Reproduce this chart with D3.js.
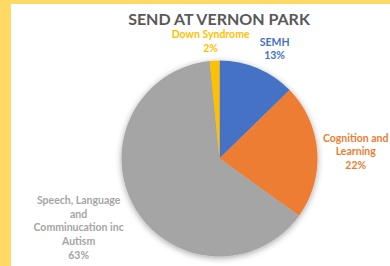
<!DOCTYPE html>
<html lang="en">
<head>
  <meta charset="UTF-8">
  <title>SEND at Vernon Park</title>
  <script src="https://d3js.org/d3.v7.min.js"></script>
  <style>
    body {
      margin: 0;
      font-family: Lato, sans-serif;
    }
    .label {
      font-size: 10.5px;
      font-weight: bold;
    }
  </style>
</head>
<body>
  <svg width="390" height="266"></svg>

  <script>
    const categories = ["SEMH", "Cognition and Learning", "Speech, Language and Comminucation inc Autism", "Down Syndrome"];
    const values = [8, 14, 40, 1];
    const labelLines = [
      ["SEMH"],
      ["Cognition and", "Learning"],
      ["Speech, Language", "and", "Comminucation inc", "Autism"],
      ["Down Syndrome"]
    ];
    const colors = ["#4472C4", "#ED7D31", "#A5A5A5", "#FFC000"];
    // label nudges from the slice's outer midpoint (first baseline)
    const labelOffsets = [[17, -22.6], [38.5, -9.6], [-56, -3.4], [-4, -22.7]];

    const svg = d3.select("svg"),
          width = +svg.attr("width"),
          height = +svg.attr("height");

    svg.append("rect").attr("width", width).attr("height", height).attr("fill", "#FFD966");
    svg.append("rect").attr("x", 11).attr("y", 4)
      .attr("width", width - 11).attr("height", height - 4).attr("fill", "#fff");

    const defs = svg.append("defs");
    defs.append("filter").attr("id", "shadow")
      .attr("x", "-20%").attr("y", "-20%").attr("width", "140%").attr("height", "140%")
      .append("feDropShadow")
      .attr("dx", 0).attr("dy", 1.5).attr("stdDeviation", 3)
      .attr("flood-color", "#000").attr("flood-opacity", 0.35);

    svg.append("text")
      .attr("x", 219).attr("y", 25)
      .attr("text-anchor", "middle")
      .style("font-size", "16px").style("font-weight", "bold")
      .attr("fill", "#595959")
      .text("SEND AT VERNON PARK");

    const cx = 219.5, cy = 158.5, r = 98;
    const g = svg.append("g").attr("transform", `translate(${cx},${cy})`);

    const pie = d3.pie().sort(null).value(d => d)(values);
    const arc = d3.arc().innerRadius(0).outerRadius(r);
    const edge = d3.arc().innerRadius(r).outerRadius(r);

    const slices = g.append("g").attr("filter", "url(#shadow)");
    slices.selectAll("path")
      .data(pie)
      .enter().append("path")
      .attr("d", arc)
      .attr("fill", (_, i) => colors[i]);

    const total = d3.sum(values);
    const lineH = 13.6;

    g.selectAll(".label")
      .data(pie)
      .enter().append("text")
      .attr("class", "label")
      .attr("text-anchor", "middle")
      .attr("fill", (_, i) => colors[i])
      .each(function(d, i) {
        const [px, py] = edge.centroid(d);
        const x = px + labelOffsets[i][0], y = py + labelOffsets[i][1];
        const lines = labelLines[i].concat([Math.round(values[i] / total * 100) + "%"]);
        const t = d3.select(this);
        lines.forEach((s, j) => {
          t.append("tspan").attr("x", x).attr("y", y + j * lineH).text(s);
        });
      });
  </script>
</body>
</html>
